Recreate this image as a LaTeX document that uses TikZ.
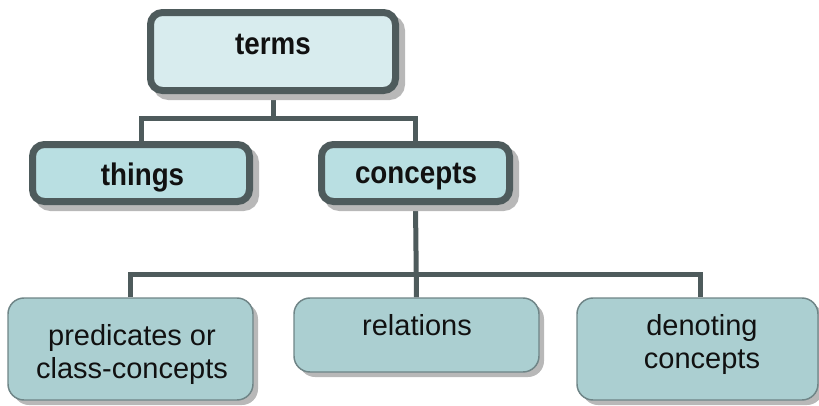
\documentclass[tikz,border=0pt]{standalone}
\usepackage{fontspec}
\setmainfont{Liberation Sans}
\usetikzlibrary{shadows,backgrounds,calc}

\definecolor{slate}{RGB}{78,91,92}
\definecolor{rootfill}{RGB}{216,236,238}
\definecolor{midfill}{RGB}{185,223,226}
\definecolor{leaffill}{RGB}{171,207,209}
\definecolor{leafedge}{RGB}{111,133,135}
\definecolor{shade}{RGB}{184,184,184}
\definecolor{ink}{RGB}{17,17,17}

% tight bold lettering for the upper boxes
\newcommand{\tightbold}[1]{\scalebox{0.89}[1]{#1}}

\tikzset{
  topbox/.style={draw=slate, line width=5.25pt, rounded corners=9pt,
    inner sep=0pt, fill=midfill,
    drop shadow={shadow xshift=4.5pt, shadow yshift=-4.5pt, fill=shade,
      draw=shade, line width=5.25pt, opacity=1}},
  leafbox/.style={draw=leafedge, line width=1.1pt, rounded corners=12pt,
    inner sep=0pt, fill=leaffill,
    drop shadow={shadow xshift=3.75pt, shadow yshift=-3.75pt, fill=shade,
      opacity=1}},
  boldtxt/.style={anchor=base, inner sep=0pt, text=ink,
    font=\fontsize{23.4}{26}\bfseries\selectfont},
  plaintxt/.style={anchor=base, inner sep=0pt, text=ink, align=center,
    font=\fontsize{21.75}{24.75}\selectfont},
  link/.style={draw=slate, line width=3.75pt}
}

\begin{document}
\begin{tikzpicture}[x=0.75pt, y=-0.75pt]
  \useasboundingbox (0,0) rectangle (819,405);

  % upper level
  \node[topbox, fill=rootfill, minimum width=183.75pt, minimum height=58.5pt]
    (terms) at (273,51.5) {};
  \node[topbox, minimum width=162.75pt, minimum height=42.75pt]
    (things) at (141,173) {};
  \node[topbox, minimum width=141pt, minimum height=42.75pt]
    (concepts) at (415.5,173) {};

  % lower level
  \node[leafbox, minimum width=183.75pt, minimum height=76.5pt]
    (predicates) at (130.5,349) {};
  \node[leafbox, minimum width=183.75pt, minimum height=55.5pt]
    (relations) at (416.5,335) {};
  \node[leafbox, minimum width=180.75pt, minimum height=76.5pt]
    (denoting) at (697.5,349) {};

  % labels (multi-line labels sit on the baseline of their last line)
  \node[boldtxt] (terms-t) at (273,54) {\tightbold{terms}};
  \node[boldtxt] (things-t) at (142.5,185) {\tightbold{things}};
  \node[boldtxt] (concepts-t) at (416,183) {\tightbold{concepts}};
  \node[plaintxt] (predicates-t) at (132,378) {predicates or\\class-concepts};
  \node[plaintxt] (relations-t) at (417,335) {relations};
  \node[plaintxt] (denoting-t) at (702,368) {denoting\\concepts};

  % connectors
  \coordinate (upperbus) at (273,118);
  \coordinate (lowerbus) at (416,274);
  \begin{scope}[on background layer]
    \draw[link] (terms.south) -- (upperbus);
    \draw[link] (things.north) |- (upperbus) -| (concepts.north);
    \draw[link] (concepts.south) -- (relations.north);
    \draw[link] (predicates.north) |- (lowerbus) -| ($(denoting.north)+(3,0)$);
  \end{scope}
\end{tikzpicture}
\end{document}
